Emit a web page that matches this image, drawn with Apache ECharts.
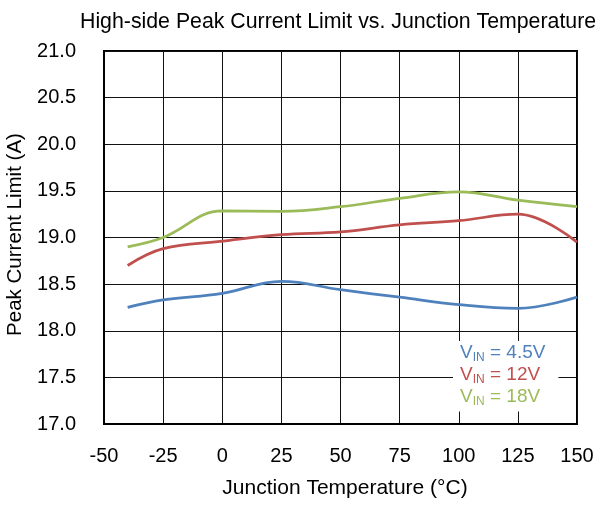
<!DOCTYPE html>
<html>
<head>
<meta charset="utf-8">
<script src="https://cdn.jsdelivr.net/npm/echarts@6/dist/echarts.min.js"></script>
<style>html,body{margin:0;padding:0;background:#fff}#c{width:601px;height:509px}</style>
</head>
<body>
<div id="c"></div>
<script>
const temps = [-40, -25, 0, 25, 50, 75, 100, 125, 150];
const vin45 = [18.25, 18.33, 18.40, 18.53, 18.44, 18.36, 18.28, 18.24, 18.36];
const vin12 = [18.70, 18.88, 18.96, 19.03, 19.06, 19.135, 19.18, 19.25, 18.95];
const vin18 = [18.90, 19.00, 19.285, 19.28, 19.33, 19.42, 19.49, 19.40, 19.33];
const seriesNames = ['VIN = 4.5V', 'VIN = 12V', 'VIN = 18V'];
const colors = ['#4F81BD', '#C0504D', '#9BBB59'];

const font = "'Liberation Sans', Arial, sans-serif";
const chart = echarts.init(document.getElementById('c'));
const mk = (vals) => temps.map((t, i) => [t, vals[i]]);
const all = [vin45, vin12, vin18];

chart.setOption({
  animation: false,
  backgroundColor: '#fff',
  textStyle: { fontFamily: font },
  title: {
    text: 'High-side Peak Current Limit vs. Junction Temperature',
    left: 75, top: 7,
    textStyle: { fontFamily: font, fontSize: 21.3, fontWeight: 'normal', color: '#000' }
  },
  grid: {
    left: 104, right: 24, top: 51, bottom: 85,
    outerBoundsMode: 'none',
    containLabel: false,
    show: true, borderColor: '#000', borderWidth: 2, backgroundColor: 'transparent'
  },
  legend: {
    orient: 'vertical',
    left: 453, top: 341,
    icon: 'none', itemWidth: 0, itemHeight: 0, itemGap: 1.5,
    backgroundColor: '#fff',
    padding: [2, 13, 4, 2],
    selectedMode: false,
    data: seriesNames.map((n, i) => ({ name: n, textStyle: { color: colors[i] } })),
    formatter: (name) => '{v|V}{s|IN}{v|' + name.slice(3) + '}',
    textStyle: {
      fontFamily: font, fontSize: 19,
      rich: {
        v: { fontFamily: font, fontSize: 19, lineHeight: 22, verticalAlign: 'middle' },
        s: { fontFamily: font, fontSize: 12, lineHeight: 10, verticalAlign: 'bottom' }
      }
    }
  },
  xAxis: {
    type: 'value', min: -50, max: 150, interval: 25,
    name: 'Junction Temperature (°C)', nameLocation: 'middle', nameGap: 54,
    nameTextStyle: { fontFamily: font, fontSize: 21, color: '#000', padding: [0, 0, 0, 9] },
    axisLine: { show: true, onZero: false, lineStyle: { color: '#000', width: 2 } },
    axisTick: { show: false },
    axisLabel: { fontFamily: font, fontSize: 20, color: '#000', margin: 22 },
    splitLine: { show: true, lineStyle: { color: '#111', width: 1 } }
  },
  yAxis: {
    type: 'value', min: 17.0, max: 21.0, interval: 0.5,
    name: 'Peak Current Limit (A)', nameLocation: 'middle', nameGap: 77,
    nameTextStyle: { fontFamily: font, fontSize: 20.5, color: '#000', padding: [0, 0, 0, 6] },
    axisLine: { show: true, onZero: false, lineStyle: { color: '#000', width: 2 } },
    axisTick: { show: false },
    axisLabel: { fontFamily: font, fontSize: 20, color: '#000', margin: 28,
      formatter: (v) => v.toFixed(1) },
    splitLine: { show: true, lineStyle: { color: '#111', width: 1 } }
  },
  series: seriesNames.map((n, i) => ({
    name: n, type: 'line', data: mk(all[i]), smooth: 0.4,
    showSymbol: false, symbol: 'none',
    lineStyle: { color: colors[i], width: 2.75 },
    itemStyle: { color: colors[i] },
    z: 2
  }))
});
</script>
</body>
</html>
